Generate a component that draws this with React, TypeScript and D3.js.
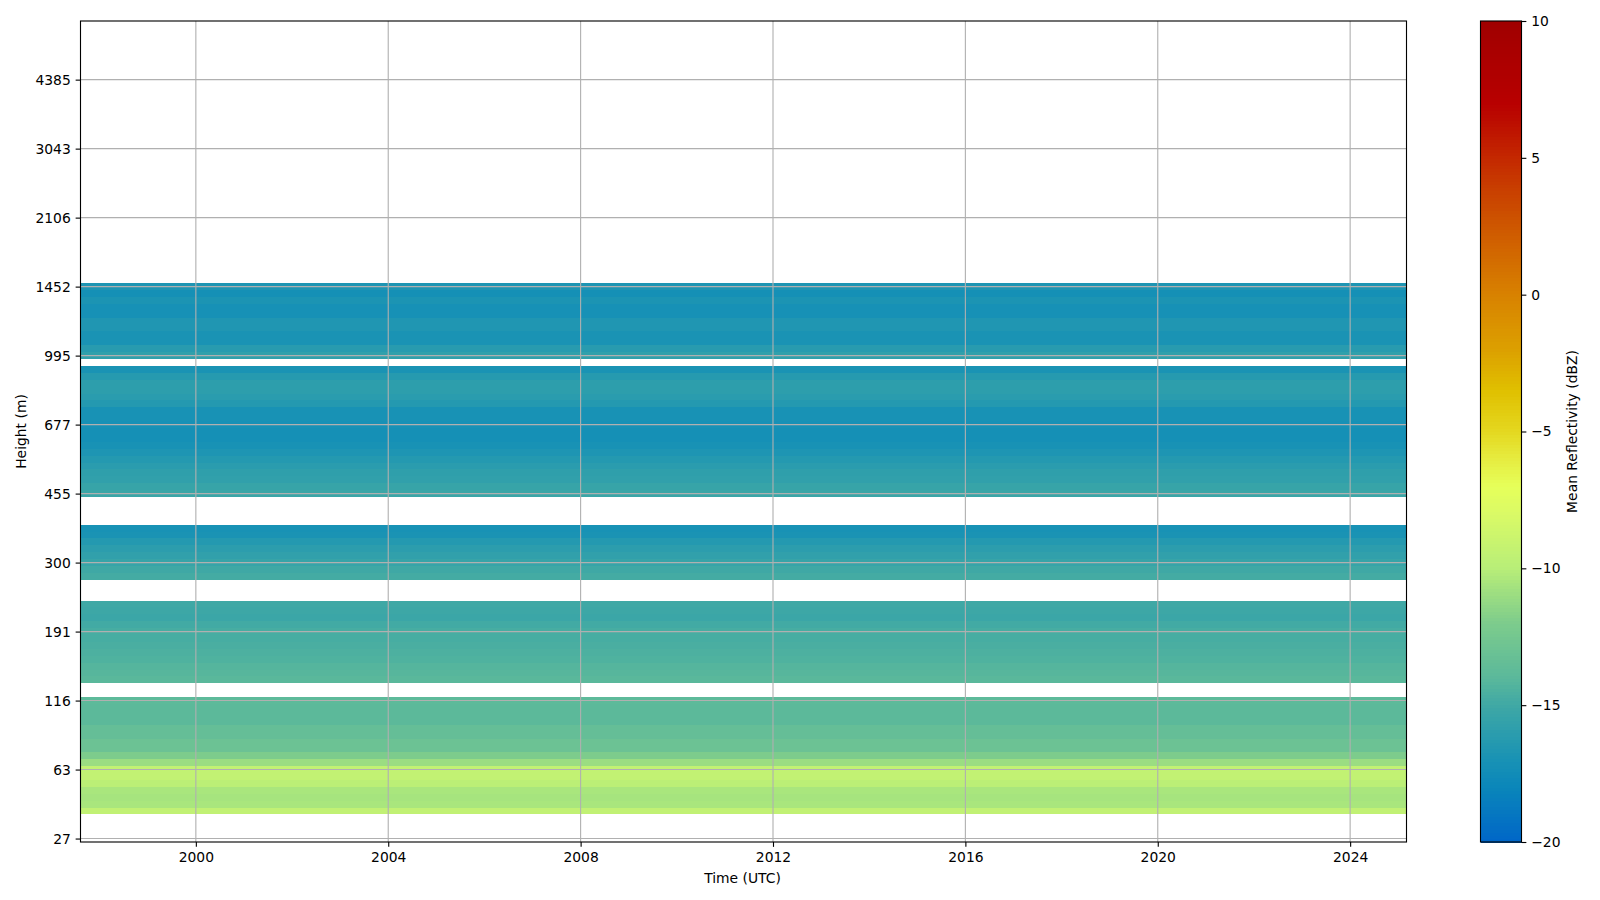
import React, { useEffect, useRef } from 'react';
import * as d3 from 'd3';

// mean reflectivity (dBZ) per range gate, bottom gate first. null = no data
const reflectivity: (number | null)[] = [
  null, null, null, null,
  -9.5, -10.5, -10.6, -10.5, -9.8, -9.4, -9.4, -11.0, -12.0, -13.0, -13.0, -13.4, -13.4, -13.9, -13.9, -13.9, -13.8,
  null, null,
  -14.0, -14.1, -14.2, -14.4, -14.5, -14.6, -14.7, -14.7, -14.9, -15.2, -15.1, -15.0,
  null, null, null,
  -14.8, -15.0, -15.4, -15.7, -16.0, -16.4, -16.9, -17.0,
  null, null, null, null,
  -15.2, -15.4, -15.7, -15.8, -16.1, -16.4, -16.7, -17.0, -17.2, -17.2, -17.1, -17.0, -17.0, -16.4, -16.1, -15.9, -15.9, -16.3, -16.9,
  null,
  -15.7, -16.2, -16.9, -16.9, -16.6, -16.6, -17.1, -17.1, -16.8, -17.2, -16.7,
];

const gateCount = 119;
const heightTicks = [0, 10, 20, 30, 40, 50, 60, 70, 80, 90, 100, 110];
const heightLabels = ['27', '63', '116', '191', '300', '455', '677', '995', '1452', '2106', '3043', '4385'];
const yearTicks = [2000, 2004, 2008, 2012, 2016, 2020, 2024];
const timeRange = [new Date(1997, 7, 8), new Date(2025, 2, 4)];
const colorTicks = [-20, -15, -10, -5, 0, 5, 10];

// colormap
const cmapValues = [-20, -18, -17, -15, -14, -12, -10, -8, -7, -6, -5, -3.5, -2, 0, 2, 4, 5, 7, 10];
const cmapColors = [
  '#0066c8', '#0a86ba', '#1892b5', '#3fa8a5', '#5ab89b', '#7dcc8c', '#b8ee78', '#dafa66', '#e6ff5a', '#e6ec40',
  '#e4d820', '#e0c000', '#dca000', '#d88200', '#d06000', '#c83c00', '#c42800', '#b80000', '#a00000',
];

const W = 1600;
const H = 900;
const plot = { left: 80.5, right: 1406.5, top: 21, bottom: 842 };
const cbar = { left: 1480.5, right: 1521.5 };
const font = '"DejaVu Sans", sans-serif';

const App: React.FC = () => {
  const svgRef = useRef<SVGSVGElement | null>(null);

  useEffect(() => {
    if (!svgRef.current) return;
    const svg = d3.select(svgRef.current);
    svg.selectAll('*').remove();

    const x = d3.scaleTime().domain(timeRange).range([plot.left, plot.right]);
    const y = d3.scaleLinear().domain([-0.5, gateCount - 0.5]).range([plot.bottom, plot.top]);
    const color = d3.scaleLinear<string>().domain(cmapValues).range(cmapColors).interpolate(d3.interpolateRgb);
    const cy = d3.scaleLinear().domain([-20, 10]).range([plot.bottom, plot.top]);

    // mesh, one row per gate
    svg.append('g')
      .attr('shape-rendering', 'crispEdges')
      .selectAll('rect')
      .data(reflectivity.map((v, i) => ({ v, i })).filter(d => d.v !== null))
      .enter().append('rect')
      .attr('x', x(timeRange[0]))
      .attr('width', x(timeRange[1]) - x(timeRange[0]))
      .attr('y', d => y(d.i + 0.5))
      .attr('height', d => y(d.i - 0.5) - y(d.i + 0.5))
      .attr('fill', d => color(d.v as number));

    // grid
    const grid = svg.append('g').attr('stroke', '#b0b0b0').attr('stroke-width', 1.11);
    yearTicks.forEach(yr => {
      const px = x(new Date(yr, 0, 1));
      grid.append('line').attr('x1', px).attr('x2', px).attr('y1', plot.top).attr('y2', plot.bottom);
    });
    heightTicks.forEach(t => {
      grid.append('line').attr('x1', plot.left).attr('x2', plot.right).attr('y1', y(t)).attr('y2', y(t));
    });

    const styleAxis = (g: d3.Selection<SVGGElement, unknown, null, undefined>) => {
      g.select('.domain').remove();
      g.selectAll('.tick line').attr('stroke', '#000').attr('stroke-width', 1.11);
      g.selectAll('.tick text').attr('fill', '#000').style('font-family', font).style('font-size', '13.89px');
    };

    const xAxis = d3.axisBottom(x)
      .tickValues(yearTicks.map(yr => new Date(yr, 0, 1)))
      .tickFormat(d => String((d as Date).getFullYear()))
      .tickSize(4.86).tickPadding(4.86);
    svg.append('g').attr('transform', `translate(0,${plot.bottom})`).call(xAxis).call(styleAxis);

    const yAxis = d3.axisLeft(y)
      .tickValues(heightTicks)
      .tickFormat((_, i) => heightLabels[i])
      .tickSize(4.86).tickPadding(4.86);
    svg.append('g').attr('transform', `translate(${plot.left},0)`).call(yAxis).call(styleAxis);

    svg.append('rect')
      .attr('x', plot.left).attr('y', plot.top)
      .attr('width', plot.right - plot.left).attr('height', plot.bottom - plot.top)
      .attr('fill', 'none').attr('stroke', '#000').attr('stroke-width', 1.11);

    // colorbar
    const steps = d3.range(-20, 10, 30 / 256);
    svg.append('g')
      .attr('shape-rendering', 'crispEdges')
      .selectAll('rect')
      .data(steps)
      .enter().append('rect')
      .attr('x', cbar.left)
      .attr('width', cbar.right - cbar.left)
      .attr('y', d => cy(d + 30 / 256))
      .attr('height', d => cy(d) - cy(d + 30 / 256) + 0.5)
      .attr('fill', d => color(d + 15 / 256));

    svg.append('rect')
      .attr('x', cbar.left).attr('y', plot.top)
      .attr('width', cbar.right - cbar.left).attr('height', plot.bottom - plot.top)
      .attr('fill', 'none').attr('stroke', '#000').attr('stroke-width', 1.11);

    const cAxis = d3.axisRight(cy)
      .tickValues(colorTicks)
      .tickFormat(d => String(d).replace('-', '\u2212'))
      .tickSize(4.86).tickPadding(4.86);
    svg.append('g').attr('transform', `translate(${cbar.right},0)`).call(cAxis).call(styleAxis);

    // axis labels
    const label = (txt: string, px: number, py: number, rot = 0) => {
      svg.append('text')
        .attr('transform', `translate(${px},${py}) rotate(${rot})`)
        .attr('text-anchor', 'middle')
        .attr('dominant-baseline', 'central')
        .style('font-family', font)
        .style('font-size', '13.89px')
        .attr('fill', '#000')
        .text(txt);
    };
    label('Time (UTC)', 742.5, 878);
    label('Height (m)', 21, (plot.top + plot.bottom) / 2, -90);
    label('Mean Reflectivity (dBZ)', 1571.5, (plot.top + plot.bottom) / 2, -90);
  }, []);

  return (
    <svg
      ref={svgRef}
      width={W}
      height={H}
      style={{ position: 'absolute', left: 0, top: 0, display: 'block', background: '#fff' }}
    />
  );
};

export default App;
